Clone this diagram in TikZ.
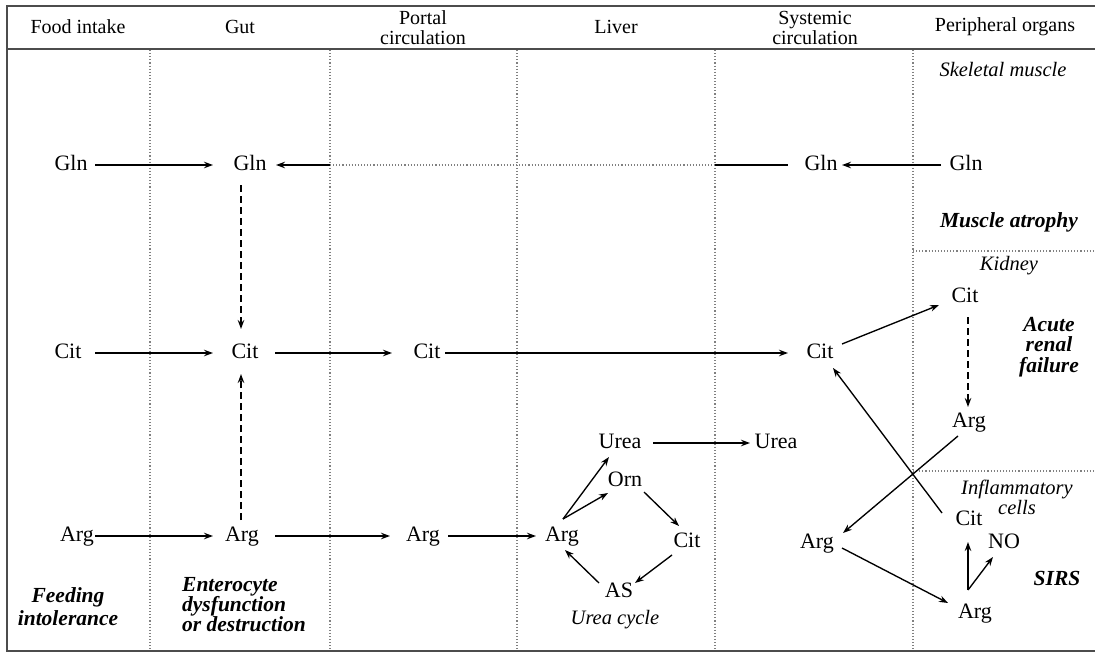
\documentclass[tikz,border=0pt]{standalone}
\usepackage{fontspec}
\setmainfont{Liberation Serif}
\usetikzlibrary{arrows.meta,calc}
\begin{document}
\begin{tikzpicture}[x=1pt,y=-1pt,
  lab/.style={font=\fontsize{22}{24}\selectfont, inner sep=0pt, text height=14pt, text depth=4pt},
  arr/.style={-{Stealth[length=9pt,width=6.5pt]}, line width=1.35pt},
  darr/.style={arr, dash pattern=on 7pt off 4pt},
  plainln/.style={line width=1.35pt},
  bi/.style={font=\fontsize{21.5}{21}\selectfont\bfseries\itshape, align=center, inner sep=0pt},
  it/.style={font=\fontsize{20.5}{20}\selectfont\itshape, align=center, inner sep=0pt},
  hdr/.style={font=\fontsize{20}{20}\selectfont, align=center, inner sep=0pt},
  divline/.style={dotted, gray, line width=1.1pt},
  framel/.style={line width=1.6pt, black!70}
]
\useasboundingbox (0,0) rectangle (1095,653);
% frame
\draw[framel] (1095,6) -- (7,6) -- (7,651) -- (1095,651);
\draw[framel] (7,49) -- (1095,49);
% dividers
\foreach \xx in {150,330,517,715,913} \draw[divline] (\xx,50) -- (\xx,650);
\draw[divline] (913,251) -- (1095,251);
\draw[divline] (913,471) -- (1095,471);
% headers
\node[hdr] (h1) at (78,27) {Food intake};
\node[hdr] (h2) at (240,27) {Gut};
\node[hdr] (h3) at (423,28) {Portal\\circulation};
\node[hdr] (h4) at (616,27) {Liver};
\node[hdr] (h5) at (815,28) {Systemic\\circulation};
\node[hdr] (h6) at (1005,27) {Peripheral organs};
% nodes
\node[lab] (fGln) at (71,165) {Gln};
\node[lab] (gGln) at (250,165) {Gln};
\node[lab] (sGln) at (821,165) {Gln};
\node[lab] (pGln) at (966,165) {Gln};
\node[lab] (fCit) at (68,353) {Cit};
\node[lab] (gCit) at (245,353) {Cit};
\node[lab] (tCit) at (427,353) {Cit};
\node[lab] (sCit) at (820,353) {Cit};
\node[lab] (kCit) at (965,297) {Cit};
\node[lab] (kArg) at (969,422) {Arg};
\node[lab] (fArg) at (77,536) {Arg};
\node[lab] (gArg) at (242,536) {Arg};
\node[lab] (tArg) at (423,536) {Arg};
\node[lab] (lArg) at (562,536) {Arg};
\node[lab] (lUrea) at (620,443) {Urea};
\node[lab] (sUrea) at (776,443) {Urea};
\node[lab] (Orn) at (625,481) {Orn};
\node[lab] (lCit) at (687,542) {Cit};
\node[lab] (AS) at (619,592) {AS};
\node[lab] (sArg) at (817,543) {Arg};
\node[lab] (iCit) at (969,520) {Cit};
\node[lab] (NO) at (1004,543) {NO};
\node[lab] (pArg) at (975,613) {Arg};
\coordinate (gdotA) at (330,165);
\coordinate (gdotB) at (715,165);
% captions
\node[it] (skm) at (1003,70) {Skeletal muscle};
\node[bi] (mat) at (1009,222) {Muscle atrophy};
\node[it] (kid) at (1009,266) {Kidney};
\node[bi, font=\fontsize{21.5}{20.5}\selectfont\bfseries\itshape] (arf) at (1049,347) {Acute\\renal\\failure};
\node[it] (inf) at (1017,497) {Inflammatory\\cells};
\node[bi] (sirs) at (1057,578) {SIRS};
\node[it] (ucy) at (615,620) {Urea cycle};
\node[bi, font=\fontsize{21.5}{23}\selectfont\bfseries\itshape] (fint) at (68,607) {Feeding\\intolerance};
\node[bi, align=left, anchor=west, font=\fontsize{21.5}{20}\selectfont\bfseries\itshape] (ent) at (182,605) {Enterocyte\\dysfunction\\or destruction};
% Gln row
\draw[arr] ($(fGln)+(24,0)$) -- ($(gGln)+(-37,0)$);
\draw[arr] (gdotA) -- ($(gGln)+(26,0)$);
\draw[divline] (gdotA) -- (gdotB);
\draw[plainln] (gdotB) -- ($(sGln)+(-33,0)$);
\draw[arr] ($(pGln)+(-25,0)$) -- ($(sGln)+(21,0)$);
% gut verticals
\draw[darr] ($(gGln)+(-9,20)$) -- ($(gCit)+(-4,-24)$);
\draw[darr] ($(gArg)+(-1,-16)$) -- ($(gCit)+(-4,21)$);
% Cit row
\draw[arr] ($(fCit)+(27,0)$) -- ($(gCit)+(-32,0)$);
\draw[arr] ($(gCit)+(30,0)$) -- ($(tCit)+(-35,0)$);
\draw[arr] ($(tCit)+(18,0)$) -- ($(sCit)+(-32,0)$);
\draw[arr] ($(sCit)+(22,-9)$) -- ($(kCit)+(-26,8)$);
\draw[darr] ($(kCit)+(3,20)$) -- ($(kArg)+(-1,-15)$);
\draw[arr] ($(kArg)+(-11,14)$) -- ($(sArg)+(26,-10)$);
\draw[arr] ($(iCit)+(-27,-7)$) -- ($(sCit)+(13,15)$);
\draw[arr] ($(sArg)+(25,5)$) -- ($(pArg)+(-27,-10)$);
\draw[arr] ($(pArg)+(-7,-23)$) -- ($(iCit)+(-1,22)$);
\draw[arr] ($(pArg)+(-7,-23)$) -- ($(NO)+(-11,14)$);
% Arg row
\draw[arr] ($(fArg)+(18,0)$) -- ($(gArg)+(-29,0)$);
\draw[arr] ($(gArg)+(33,0)$) -- ($(tArg)+(-33,0)$);
\draw[arr] ($(tArg)+(25,0)$) -- ($(lArg)+(-26,0)$);
% urea cycle
\draw[arr] ($(lArg)+(1,-17)$) -- ($(lUrea)+(-11,14)$);
\draw[arr] ($(lArg)+(1,-17)$) -- ($(Orn)+(-17,12)$);
\draw[arr] ($(Orn)+(19,11)$) -- ($(lCit)+(-8,-16)$);
\draw[arr] ($(lCit)+(-15,13)$) -- ($(AS)+(16,-9)$);
\draw[arr] ($(AS)+(-20,-9)$) -- ($(lArg)+(3,14)$);
\draw[arr] ($(lUrea)+(33,0)$) -- ($(sUrea)+(-26,0)$);
\end{tikzpicture}
\end{document}
